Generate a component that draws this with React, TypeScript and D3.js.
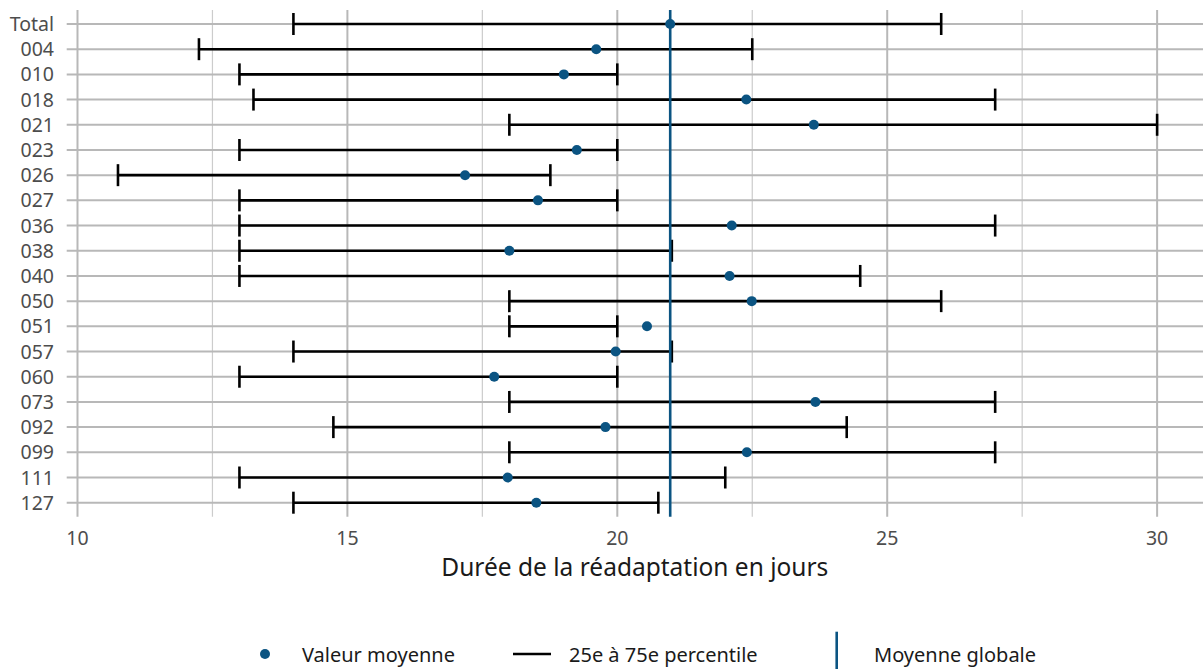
import React, { useEffect } from "react";
import * as d3 from "d3";

const categories = ["Total", "004", "010", "018", "021", "023", "026", "027", "036", "038", "040", "050", "051", "057", "060", "073", "092", "099", "111", "127"];
const meanValues = [20.98, 19.61, 19.01, 22.39, 23.64, 19.25, 17.18, 18.53, 22.12, 18.0, 22.08, 22.49, 20.55, 19.97, 17.72, 23.67, 19.78, 22.4, 17.97, 18.5];
const p25Values = [14, 12.25, 13, 13.26, 18, 13, 10.75, 13, 13, 13, 13, 18, 18, 14, 13, 18, 14.74, 18, 13, 14];
const p75Values = [26, 22.5, 20, 27, 30, 20, 18.76, 20, 27, 21.01, 24.5, 26, 20, 21.01, 20, 27, 24.25, 27, 22, 20.76];
const globalMean = 20.98;
const xMajorTicks = [10, 15, 20, 25, 30];
const xMinorTicks = [12.5, 17.5, 22.5, 27.5];
const xTitle = "Durée de la réadaptation en jours";
const legendLabels = ["Valeur moyenne", "25e à 75e percentile", "Moyenne globale"];

const W = 1203;
const H = 669;
const FONT = "'Noto Sans', 'Open Sans', sans-serif";
const BLUE = "#0b5482";

export default function App() {
  useEffect(() => {
    document.body.style.margin = "0";
  }, []);

  const panelLeft = 66.7;
  const panelRight = W;
  const panelTop = 10;
  const panelBottom = 516.7;

  const x = d3.scaleLinear().domain([9.8, 30.85]).range([panelLeft, panelRight]);
  const y = d3.scalePoint<string>().domain(categories).range([24, 502.7]);

  const capH = 11;

  return (
    <svg width={W} height={H} style={{ display: "block", fontFamily: FONT }}>
      <rect width={W} height={H} fill="#ffffff" />
      {/* minor vertical grid */}
      {xMinorTicks.map((t) => (
        <line key={"mn" + t} x1={x(t)} x2={x(t)} y1={panelTop} y2={panelBottom} stroke="#cccccc" strokeWidth={1.2} />
      ))}
      {/* major vertical grid */}
      {xMajorTicks.map((t) => (
        <line key={"mj" + t} x1={x(t)} x2={x(t)} y1={panelTop} y2={panelBottom} stroke="#b8b8b8" strokeWidth={2} />
      ))}
      {/* horizontal grid */}
      {categories.map((c) => (
        <line key={"hg" + c} x1={panelLeft} x2={panelRight} y1={y(c)} y2={y(c)} stroke="#b8b8b8" strokeWidth={2} />
      ))}
      {/* error bars */}
      {categories.map((c, i) => {
        const yy = y(c) as number;
        return (
          <g key={"eb" + c} stroke="#000000" strokeWidth={2.6}>
            <line x1={x(p25Values[i])} x2={x(p75Values[i])} y1={yy} y2={yy} />
            <line x1={x(p25Values[i])} x2={x(p25Values[i])} y1={yy - capH} y2={yy + capH} />
            <line x1={x(p75Values[i])} x2={x(p75Values[i])} y1={yy - capH} y2={yy + capH} />
          </g>
        );
      })}
      {/* global mean line */}
      <line x1={x(globalMean)} x2={x(globalMean)} y1={panelTop} y2={panelBottom} stroke={BLUE} strokeWidth={2.6} />
      {/* points */}
      {categories.map((c, i) => (
        <circle key={"pt" + c} cx={x(meanValues[i])} cy={y(c)} r={5} fill={BLUE} />
      ))}
      {/* y labels */}
      {categories.map((c) => (
        <text key={"yl" + c} x={54} y={(y(c) as number) + 7} textAnchor="end" fontSize={19.5} fill="#4d4d4d">
          {c}
        </text>
      ))}
      {/* x labels */}
      {xMajorTicks.map((t) => (
        <text key={"xl" + t} x={x(t)} y={545} textAnchor="middle" fontSize={19.5} fill="#4d4d4d">
          {t}
        </text>
      ))}
      <text x={(panelLeft + panelRight) / 2} y={576} textAnchor="middle" fontSize={24.5} fill="#1a1a1a">
        {xTitle}
      </text>
      {/* legend */}
      <circle cx={265} cy={654} r={5} fill={BLUE} />
      <text x={302} y={662} fontSize={20} fill="#1a1a1a">{legendLabels[0]}</text>
      <line x1={513} x2={551} y1={654} y2={654} stroke="#000000" strokeWidth={2.6} />
      <text x={569} y={662} fontSize={20} fill="#1a1a1a">{legendLabels[1]}</text>
      <line x1={836.7} x2={836.7} y1={631.7} y2={680} stroke={BLUE} strokeWidth={2.6} />
      <text x={874} y={662} fontSize={20} fill="#1a1a1a">{legendLabels[2]}</text>
    </svg>
  );
}
